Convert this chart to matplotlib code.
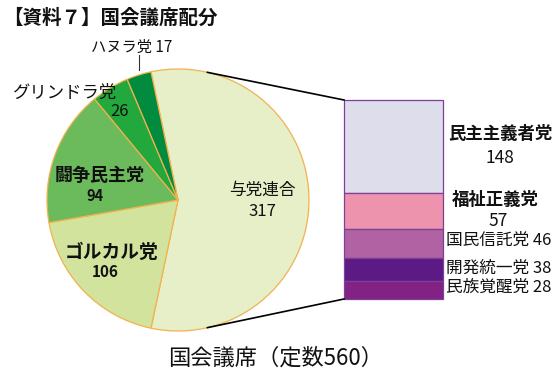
import matplotlib.pyplot as plt
import numpy as np

plt.rcParams['font.family'] = ['Noto Sans CJK JP', 'DejaVu Sans']

# 国会議席（パイ）
pie_labels = ['与党連合', 'ゴルカル党', '闘争民主党', 'グリンドラ党', 'ハヌラ党']
pie_values = [317, 106, 94, 26, 17]
pie_colors = ['#E6EFC7', '#D1E39C', '#6BBA5B', '#22A83C', '#008B3F']

# 与党連合の内訳（棒）
bar_labels = ['民主主義者党', '福祉正義党', '国民信託党', '開発統一党', '民族覚醒党']
bar_values = [148, 57, 46, 38, 28]
bar_colors = ['#DEDDEB', '#EE93AD', '#B062A2', '#5B1A84', '#822384']

W, H = 560, 375
fig = plt.figure(figsize=(W / 100, H / 100), dpi=100)
ax = fig.add_axes([0, 0, 1, 1])

cx, cy, r = 178, 175, 131
start = 360 * pie_values[0] / sum(pie_values) / 2
ax.pie(pie_values, colors=pie_colors, startangle=start, counterclock=False,
       center=(cx, cy), radius=r,
       wedgeprops=dict(edgecolor='#F2B24E', linewidth=0.9))

# 棒（上から民主主義者党）
bx, bw = 393.5, 99
btop, bbot = 275, 76
scale = (btop - bbot) / sum(bar_values)
heights = np.array(bar_values) * scale
bottoms = btop - np.cumsum(heights)
ax.bar(bx, heights, bottom=bottoms, width=bw, color=bar_colors,
       edgecolor='#7E3F98', linewidth=0.9)

# 接続線
ang = np.deg2rad(77)
ax.plot([cx + r * np.cos(ang), bx - bw / 2], [cy + r * np.sin(ang), btop],
        color='black', lw=1.2)
ax.plot([cx + r * np.cos(ang), bx - bw / 2], [cy - r * np.sin(ang), bbot],
        color='black', lw=1.2)

# ハヌラ党の引き出し線
mid = np.deg2rad(start + 360 * pie_values[4] / sum(pie_values) / 2)
hx = cx + r * np.cos(mid)
ax.plot([hx, hx], [cy + r * np.sin(mid) + 5, 320], color='#333333', lw=0.8)


def label(x, y, s, size, bold=False, ha='center'):
    ax.text(x, H - y, s, fontsize=size, weight='bold' if bold else 'normal',
            ha=ha, va='center', color='#111111')


label(132, 47, 'ハヌラ党 17', 11)
label(65, 93, 'グリンドラ党', 12.5)
label(120, 112, '26', 12)
label(100, 175, '闘争民主党', 13, bold=True)
label(95, 196, '94', 10.5, bold=True)
label(112, 252, 'ゴルカル党', 13.5, bold=True)
label(105, 272, '106', 11, bold=True)
label(262, 190, '与党連合', 12)
label(262, 212, '317', 12)

label(500, 134, '民主主義者党', 12.5, bold=True)
label(500, 158, '148', 12.5)
label(495, 200, '福祉正義党', 12.5, bold=True)
label(498, 221, '57', 12.5)
label(446, 240, '国民信託党 46', 12, ha='left')
label(446, 268, '開発統一党 38', 12, ha='left')
label(446, 287, '民族覚醒党 28', 12, ha='left')

label(3, 18, '【資料７】国会議席配分', 14, bold=True, ha='left')
label(276, 358, '国会議席（定数560）', 16)

ax.set_xlim(0, W)
ax.set_ylim(0, H)
ax.set_aspect('equal')
ax.axis('off')

plt.savefig('out.png', dpi=100)
